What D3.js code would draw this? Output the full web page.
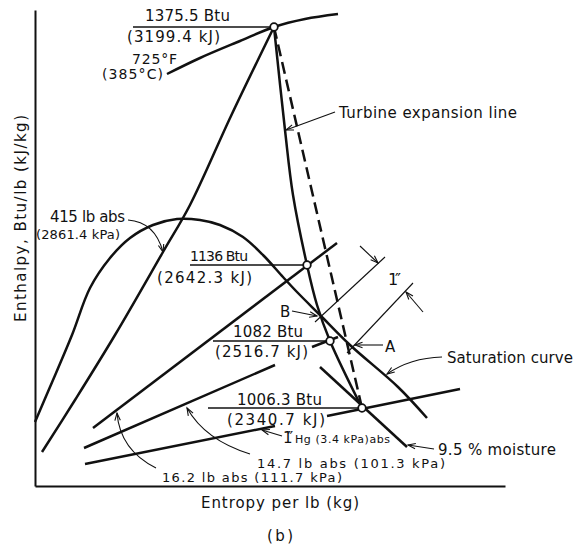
<!DOCTYPE html>
<html><head><meta charset="utf-8">
<script src="https://cdn.jsdelivr.net/npm/d3@7"></script>
<style>
body{margin:0;background:#fff}
svg{display:block}
text{font-family:"DejaVu Sans",sans-serif;fill:#111}
</style>
</head><body>
<svg id="c" width="576" height="547"></svg>
<script>
// ---- data (entropy s, enthalpy h in schematic units) ----
const isotherm725 = [[1.32,4.12],[1.65,4.28],[2.05,4.45],[2.39,4.59],[2.70,4.67],[3.03,4.72]];
const pressure415 = [[0.07,0.34],[0.40,0.86],[0.80,1.51],[1.28,2.34],[1.55,2.81],[1.96,3.70],[2.39,4.59]];
const saturationCurve = [[0.00,0.64],[0.15,0.99],[0.37,1.51],[0.55,1.98],[0.75,2.28],[0.95,2.48],[1.18,2.61],[1.42,2.67],[1.65,2.66],[1.85,2.61],[2.08,2.49],[2.28,2.31],[2.48,2.09],[2.62,1.94],[2.85,1.71],[3.15,1.41],[3.63,0.99],[3.92,0.68]];
const expansionLine = [[2.39,4.59],[2.50,3.56],[2.58,2.91],[2.72,2.21],[2.82,1.81],[2.95,1.45],[3.27,0.78]];
const isentropicLine = [[2.39,4.59],[3.27,0.78]];
const pressure16_2 = [[0.58,0.58],[3.02,2.43]];
const pressure14_7 = [[0.49,0.38],[2.40,1.21]];
const pressureHgLeft = [[0.50,0.22],[2.40,0.60]];
const pressureHgRight = [[2.92,0.70],[4.25,0.97]];
const pressure1082 = [[2.77,1.39],[3.03,1.49]];
const moisture95 = [[2.85,1.19],[3.72,0.39]];
const dimLineB = [[2.80,1.64],[3.50,2.29]];
const dimLineA = [[3.12,1.33],[3.78,2.03]];
const statePoints = [[2.39,4.59],[2.72,2.21],[2.95,1.45],[3.27,0.78]];
const stateBtu = ["1375.5 Btu","1136 Btu","1082 Btu","1006.3 Btu"];
const stateKJ = ["(3199.4 kJ)","(2642.3 kJ)","(2516.7 kJ)","(2340.7 kJ)"];
const leaderStartS = [0.98,1.55,1.78,1.73];
const pressureLabels = ["415 lb abs","(2861.4 kPa)","16.2 lb abs (111.7 kPa)","14.7 lb abs (101.3 kPa)","Hg (3.4 kPa)abs"];
const otherLabels = ["725\u00B0F","(385\u00B0C)","Turbine  expansion line","Saturation curve","9.5 % moisture","B","A","1\u2033"];
const axisTitles = ["Entropy  per lb (kg)","Enthalpy, Btu/lb (kJ/kg)","(b)"];

// ---- scales ----
const svg = d3.select("#c");
const x = d3.scaleLinear().domain([0,4.70]).range([35,505]);
const y = d3.scaleLinear().domain([0,4.76]).range([486,10]);
const straight = d3.line().x(d=>x(d[0])).y(d=>y(d[1]));
const smooth = d3.line().x(d=>x(d[0])).y(d=>y(d[1])).curve(d3.curveCatmullRom.alpha(0.5));

// axes
svg.append("g").attr("transform",`translate(${x(0)},0)`).call(d3.axisLeft(y).tickValues([]).tickSizeOuter(0));
svg.append("g").attr("transform",`translate(0,${y(0)})`).call(d3.axisBottom(x).tickValues([]).tickSizeOuter(0));
svg.selectAll(".domain").attr("stroke","#111").attr("stroke-width",2);

const thick = 2.5;
function path(data, gen, w, dash){
  const p = svg.append("path").datum(data).attr("d",gen).attr("fill","none")
    .attr("stroke","#111").attr("stroke-width",w).attr("stroke-linecap","butt");
  if(dash) p.attr("stroke-dasharray",dash);
  return p;
}
path(isotherm725, smooth, thick);
path(pressure415, smooth, thick);
path(saturationCurve, smooth, thick);
path(expansionLine, smooth, thick);
path(isentropicLine, straight, thick, "12,6");
path(pressure16_2, straight, thick);
path(pressure14_7, straight, thick);
path(pressureHgLeft, straight, thick);
path(pressureHgRight, straight, thick);
path(pressure1082, straight, thick);
path(moisture95, straight, thick);
path(dimLineB, straight, 1.1);
path(dimLineA, straight, 1.1);

// leaders (enthalpy underlines)
statePoints.forEach((p,i)=>{
  path([[leaderStartS[i],p[1]],p], straight, 1.3);
});

// arrows
function arrow(from, to, ctrl){
  const f=[x(from[0]),y(from[1])], t=[x(to[0]),y(to[1])];
  let d, dir;
  if(ctrl){
    const c=[x(ctrl[0]),y(ctrl[1])];
    d=`M${f[0]},${f[1]}Q${c[0]},${c[1]} ${t[0]},${t[1]}`;
    dir=[t[0]-c[0],t[1]-c[1]];
  } else {
    d=`M${f[0]},${f[1]}L${t[0]},${t[1]}`;
    dir=[t[0]-f[0],t[1]-f[1]];
  }
  svg.append("path").attr("d",d).attr("fill","none").attr("stroke","#111").attr("stroke-width",1.1);
  const L=Math.hypot(dir[0],dir[1]); const ux=dir[0]/L, uy=dir[1]/L;
  const len=8, a=0.35;
  const h1=[t[0]-len*(ux*Math.cos(a)-uy*Math.sin(a)), t[1]-len*(uy*Math.cos(a)+ux*Math.sin(a))];
  const h2=[t[0]-len*(ux*Math.cos(a)+uy*Math.sin(a)), t[1]-len*(uy*Math.cos(a)-ux*Math.sin(a))];
  svg.append("path").attr("d",`M${h1[0]},${h1[1]}L${t[0]},${t[1]}L${h2[0]},${h2[1]}`)
    .attr("fill","none").attr("stroke","#111").attr("stroke-width",1.1);
}
arrow([3.00,3.74],[2.51,3.56]);
arrow([0.93,2.66],[1.28,2.34],[1.20,2.64]);
arrow([2.57,1.75],[2.82,1.70]);
arrow([3.48,1.41],[3.20,1.41]);
arrow([4.07,1.29],[3.52,1.12],[3.75,1.28]);
arrow([3.99,0.37],[3.73,0.41]);
arrow([2.47,0.50],[2.27,0.56]);
arrow([2.15,0.32],[1.52,0.78],[1.70,0.46]);
arrow([1.21,0.18],[0.82,0.73],[0.85,0.36]);
arrow([3.25,2.40],[3.43,2.23]);
arrow([3.88,1.74],[3.71,1.94]);

// state point circles
svg.selectAll("circle.st").data(statePoints).join("circle").attr("class","st")
  .attr("cx",d=>x(d[0])).attr("cy",d=>y(d[1])).attr("r",3.8)
  .attr("fill","#fff").attr("stroke","#111").attr("stroke-width",1.8);

// labels
function label(txt, s, h, width, size){
  svg.append("text").attr("x",x(s)).attr("y",y(h)).attr("font-size",size||15)
    .attr("textLength",width).attr("lengthAdjust","spacing").text(txt);
}
const btuPos=[[1.10,4.65,85,15],[1.55,2.25,58,14],[1.98,1.49,70,15],[2.02,0.81,85,15]];
const kjPos=[[0.92,4.44,93],[1.22,2.03,95],[1.80,1.29,93],[1.92,0.61,98]];
stateBtu.forEach((t,i)=>label(t,btuPos[i][0],btuPos[i][1],btuPos[i][2],btuPos[i][3]));
stateKJ.forEach((t,i)=>label(t,kjPos[i][0],kjPos[i][1],kjPos[i][2]));
label(otherLabels[0],0.97,4.22,45,14);
label(otherLabels[1],0.67,4.07,61,14);
label(otherLabels[2],3.04,3.68,178);
label(otherLabels[3],4.12,1.23,126);
label(otherLabels[4],4.03,0.31,118);
label(otherLabels[5],2.45,1.69,10);
label(otherLabels[6],3.50,1.34,11);
label(otherLabels[7],3.53,2.01,13,16);
label(pressureLabels[0],0.15,2.64,75);
label(pressureLabels[1],0.01,2.47,84,13);
label(pressureLabels[2],1.27,0.04,180,13);
label(pressureLabels[3],2.22,0.18,188,13);
label(otherLabels[7],2.48,0.43,10,15);
label(pressureLabels[4],2.60,0.43,95,11);

// axis titles
const xm=(x.range()[0]+x.range()[1])/2+10;
svg.append("text").attr("x",xm).attr("y",y(0)+22).attr("text-anchor","middle").attr("font-size",15)
  .attr("textLength",158).attr("lengthAdjust","spacing").text(axisTitles[0]);
svg.append("text").attr("x",xm).attr("y",y(0)+55).attr("text-anchor","middle").attr("font-size",15)
  .attr("textLength",26).attr("lengthAdjust","spacing").text(axisTitles[2]);
svg.append("text").attr("transform",`translate(${x(0)-9},${y(1.64)}) rotate(-90)`).attr("font-size",15)
  .attr("textLength",207).attr("lengthAdjust","spacing").text(axisTitles[1]);
</script>
</body></html>
